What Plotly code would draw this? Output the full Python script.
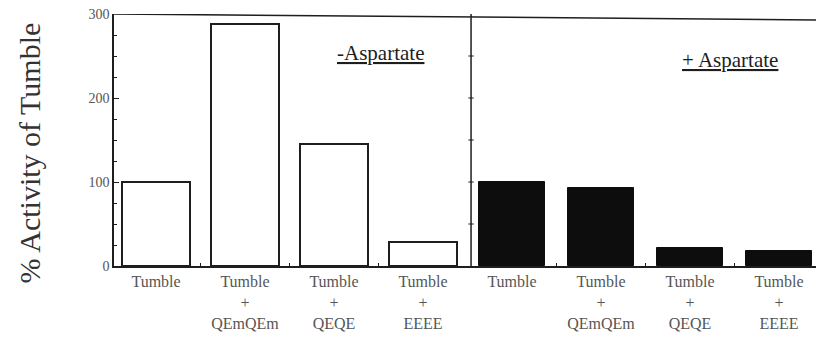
import plotly.graph_objects as go

# Bar categories (one set per condition) and measured activity (% of Tumble alone)
labels_minus = ["Tumble", "Tumble<br>+<br>QEmQEm", "Tumble<br>+<br>QEQE", "Tumble<br>+<br>EEEE"]
labels_plus = ["Tumble", "Tumble<br>+<br>QEmQEm", "Tumble<br>+<br>QEQE", "Tumble<br>+<br>EEEE"]
activity_minus_asp = [100, 288, 145, 28]
activity_plus_asp = [100, 93, 22, 18]
y_ticks = [0, 100, 200, 300]

pos_minus = [0, 1, 2, 3]
pos_plus = [4, 5, 6, 7]
divider_x = 3.54

SERIF = "Liberation Serif, Times New Roman, serif"
INK = "#1e1e1e"

fig = go.Figure()
fig.add_trace(go.Bar(
    x=pos_minus, y=activity_minus_asp, width=0.76,
    marker=dict(color="white", line=dict(color=INK, width=2)),
    showlegend=False,
))
fig.add_trace(go.Bar(
    x=pos_plus, y=activity_plus_asp, width=0.74,
    marker=dict(color="#0d0d0d", line=dict(color="#0d0d0d", width=1)),
    showlegend=False,
))

# frame: top edge and the divider between the two conditions
fig.add_shape(type="line", xref="paper", yref="y", x0=0, x1=1, y0=300, y1=293,
              line=dict(color=INK, width=1.5))
fig.add_shape(type="line", xref="x", yref="y", x0=divider_x, x1=divider_x, y0=0, y1=300,
              line=dict(color=INK, width=1.5))
for v in [50, 100, 150, 200, 250]:
    fig.add_shape(type="line", xref="x", yref="y", x0=divider_x - 0.03, x1=divider_x + 0.03,
                  y0=v, y1=v, line=dict(color=INK, width=1))

fig.add_annotation(x=2.52, y=253, xref="x", yref="y",
                   text='<span style="text-decoration:underline">-Aspartate</span>',
                   showarrow=False, font=dict(family=SERIF, size=21, color=INK))
fig.add_annotation(x=6.45, y=245, xref="x", yref="y",
                   text='<span style="text-decoration:underline">+ Aspartate</span>',
                   showarrow=False, font=dict(family=SERIF, size=21, color=INK))

fig.add_annotation(x=-0.1197, y=0.45, xref="paper", yref="paper",
                   xanchor="center", yanchor="middle",
                   text="% Activity of Tumble", textangle=-90, showarrow=False,
                   font=dict(family=SERIF, size=30, color="#333"))

fig.update_layout(
    width=816, height=339,
    margin=dict(l=114, r=0, t=14, b=73),
    plot_bgcolor="white", paper_bgcolor="white",
    bargap=0,
)
fig.update_xaxes(
    range=[-0.472, 7.416],
    tickmode="array", tickvals=pos_minus + pos_plus, ticktext=labels_minus + labels_plus,
    ticks="", showgrid=False, zeroline=False,
    showline=True, linecolor=INK, linewidth=1.5,
    tickfont=dict(family=SERIF, size=16, color="#555"),
    minor=dict(tickvals=[0.5, 1.5, 2.5, 4.5, 5.5, 6.5], ticks="inside", ticklen=3,
               tickcolor=INK),
)
fig.update_yaxes(
    range=[0, 300],
    tickmode="array", tickvals=y_ticks, ticktext=[str(v) for v in y_ticks],
    ticks="inside", ticklen=5, tickcolor=INK,
    minor=dict(dtick=25, ticks="inside", ticklen=3, tickcolor=INK),
    showgrid=False, zeroline=False,
    showline=True, linecolor=INK, linewidth=1.5,
    tickfont=dict(family=SERIF, size=14, color="#555"),
)

fig.write_html("out.html")
